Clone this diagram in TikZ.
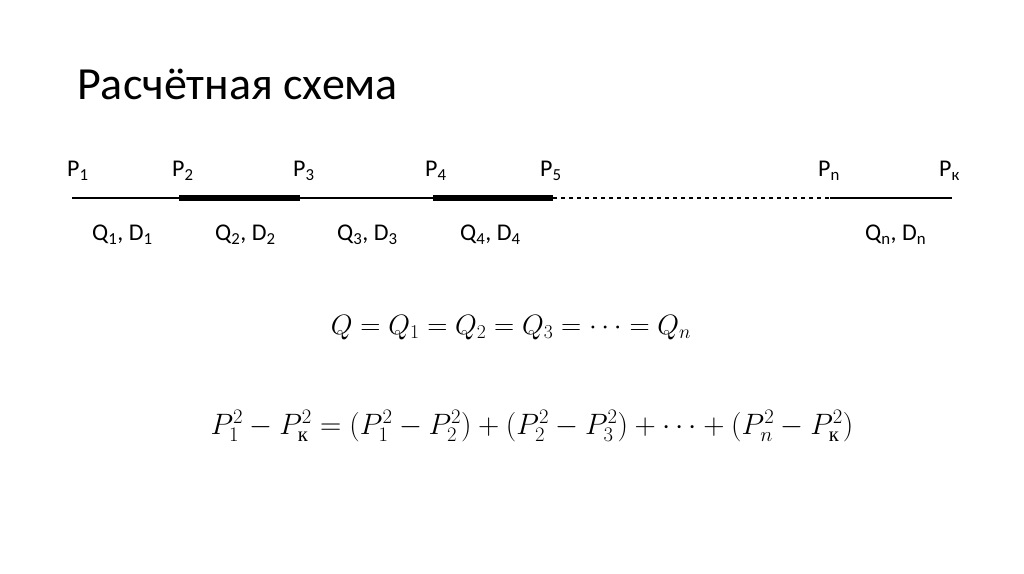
\RequirePackage{fix-cm}
\documentclass[tikz,border=0pt]{standalone}
\usepackage{amsmath}
\usepackage{fontspec}
\setmainfont{Carlito}
\newfontfamily\cyr{Liberation Serif}
\begin{document}
\begin{tikzpicture}[x=1bp,y=-1bp,
  lbl/.style={anchor=base west,inner sep=0pt,font=\fontsize{24bp}{28bp}\selectfont},
  eq/.style={anchor=base,inner sep=0pt,font=\fontsize{28bp}{33bp}\selectfont},
  eqbig/.style={anchor=base,inner sep=0pt,font=\fontsize{29.5bp}{34bp}\selectfont},
  pipethin/.style={line width=2.5bp},
  pipethick/.style={line width=6bp},
  pipedash/.style={line width=2.5bp,dash pattern=on 4bp off 4bp}]
\useasboundingbox (0,0) rectangle (1024,574);
\node[anchor=base west,inner sep=0pt,font=\fontsize{46bp}{52bp}\selectfont] (title) at (77,100) {Расчётная схема};
% pipeline points
\coordinate (a1) at (72,198);
\coordinate (a2) at (179,198);
\coordinate (a3) at (300,198);
\coordinate (a4) at (433,198);
\coordinate (a5) at (553,198);
\coordinate (a6) at (830,198);
\coordinate (a7) at (952,198);
\draw[pipethin] (a1) -- (a2);
\draw[pipethick] (a2) -- (a3);
\draw[pipethin] (a3) -- (a4);
\draw[pipethick] (a4) -- (a5);
\draw[pipedash] (a5) -- (a6);
\draw[pipethin] (a6) -- (a7);
% pressure labels
\node[lbl] (p1) at (67,177) {P\textsubscript{1}};
\node[lbl] (p2) at (172,177) {P\textsubscript{2}};
\node[lbl] (p3) at (293,177) {P\textsubscript{3}};
\node[lbl] (p4) at (425,177) {P\textsubscript{4}};
\node[lbl] (p5) at (540,177) {P\textsubscript{5}};
\node[lbl] (pn) at (818,177) {P\textsubscript{n}};
\node[lbl] (pk) at (939,177) {P\textsubscript{к}};
% segment labels
\node[lbl] (q1) at (92,241) {Q\textsubscript{1}, D\textsubscript{1}};
\node[lbl] (q2) at (215,241) {Q\textsubscript{2}, D\textsubscript{2}};
\node[lbl] (q3) at (337,241) {Q\textsubscript{3}, D\textsubscript{3}};
\node[lbl] (q4) at (460,241) {Q\textsubscript{4}, D\textsubscript{4}};
\node[lbl] (qn) at (865,241) {Q\textsubscript{n}, D\textsubscript{n}};
% equations
\node[eq] (e1) at (511,334) {$Q = Q_1 = Q_2 = Q_3 = \cdots = Q_n$};
\node[eqbig] (e2) at (532,434) {$P_1^2 - P_{\text{\cyr к}}^2 = (P_1^2 - P_2^2) + (P_2^2 - P_3^2) + \cdots + (P_n^2 - P_{\text{\cyr к}}^2)$};
\end{tikzpicture}
\end{document}
